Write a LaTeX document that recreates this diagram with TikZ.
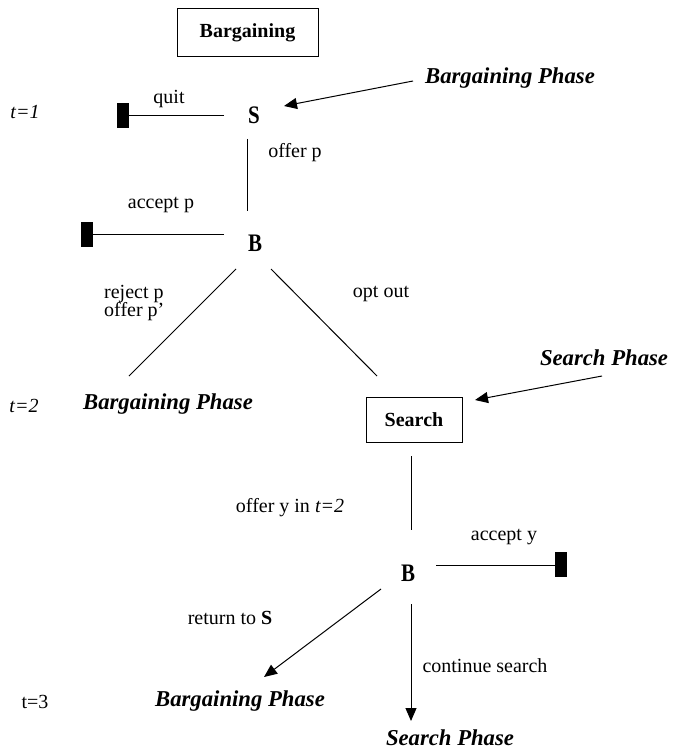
\documentclass[tikz,border=0pt]{standalone}
\usepackage{fontspec}
\setmainfont{Liberation Serif}
\usetikzlibrary{arrows.meta}
\begin{document}
\begin{tikzpicture}[x=1pt,y=-1pt,
  lbl/.style={inner sep=0pt,font=\fontsize{20}{22}\selectfont},
  player/.style={inner sep=0pt,font=\fontsize{21}{23}\selectfont\bfseries},
  phase/.style={inner sep=0pt,font=\fontsize{22.7}{25}\selectfont\bfseries\itshape},
  boxnode/.style={draw,line width=1pt,inner sep=0pt,font=\fontsize{20}{22}\selectfont\bfseries},
  term/.style={fill=black,inner sep=0pt,minimum width=12pt,minimum height=25pt},
  edge/.style={line width=1pt},
  arr/.style={line width=1pt,-{Triangle[length=13pt,width=11pt]}}]
\useasboundingbox (0,0) rectangle (672,751);
% top box
\node[boxnode,minimum width=141pt,minimum height=48pt] (bargbox) at (247.5,33) {Bargaining};
\node[phase] (bp1) at (510,78) {Bargaining Phase};
\node[player] (S) at (254,115) {\scalebox{1}[1.2]{S}};
\coordinate (bp1a) at (413,81);
\coordinate (Stip) at (284,106);
\draw[arr] (bp1a) -- (Stip);
\node[lbl,font=\fontsize{20}{22}\selectfont\itshape] (t1) at (25,112) {t=1};
\node[lbl] (quit) at (169,99) {quit};
\node[term] (q1) at (123,116) {};
\coordinate (qs) at (224,116);
\draw[edge] (qs) -- (q1.east);
\coordinate (sv1) at (247,139);
\coordinate (sv2) at (247,211);
\draw[edge] (sv1) -- (sv2);
\node[lbl] (offerp) at (295,153) {offer p};
\node[lbl] (acceptp) at (161,205) {accept p};
\node[term] (a1) at (87,234.5) {};
\coordinate (as) at (224,234);
\draw[edge] (as) -- (a1.east |- as);
\node[player] (B1) at (255,243) {\scalebox{1}[1.2]{B}};
% diagonals
\coordinate (dl1) at (236,269);
\coordinate (dl2) at (129,376);
\coordinate (dr1) at (271,269);
\coordinate (dr2) at (377,376);
\draw[edge] (dl1) -- (dl2);
\draw[edge] (dr1) -- (dr2);
\node[lbl,anchor=west] (rej) at (104,294) {reject p};
\node[lbl,anchor=west] (offp) at (104,312) {offer p’};
\node[lbl] (optout) at (381,294) {opt out};
\node[lbl,font=\fontsize{20}{22}\selectfont\itshape] (t2) at (24,406) {t=2};
\node[phase] (bp2) at (168,404) {Bargaining Phase};
\node[boxnode,minimum width=96pt,minimum height=45pt] (search) at (414,419.5) {Search};
\node[phase] (sp1) at (604,358) {Search Phase};
\coordinate (sp1a) at (602,376);
\coordinate (srtip) at (475,400);
\draw[arr] (sp1a) -- (srtip);
\coordinate (v1) at (411,456);
\coordinate (v2) at (411,530);
\draw[edge] (v1) -- (v2);
\node[lbl] (offy) at (290,508) {offer y in \textit{t=2}};
\node[lbl] (accy) at (504,537) {accept y};
\node[term] (a2) at (561,564.5) {};
\coordinate (ays) at (436,565);
\draw[edge] (ays) -- (a2.west |- ays);
\node[player] (B2) at (408,573) {\scalebox{1}[1.2]{B}};
\coordinate (r1) at (381,589);
\coordinate (r2) at (264,677);
\draw[arr] (r1) -- (r2);
\node[lbl] (ret) at (230,618) {return to \textbf{S}};
\coordinate (c1) at (411,604);
\coordinate (c2) at (411,721);
\draw[arr] (c1) -- (c2);
\node[lbl] (cont) at (485,666) {continue search};
\node[lbl] (t3) at (35,702) {t=3};
\node[phase] (bp3) at (240,701) {Bargaining Phase};
\node[phase] (sp3) at (450,738) {Search Phase};
\end{tikzpicture}
\end{document}
